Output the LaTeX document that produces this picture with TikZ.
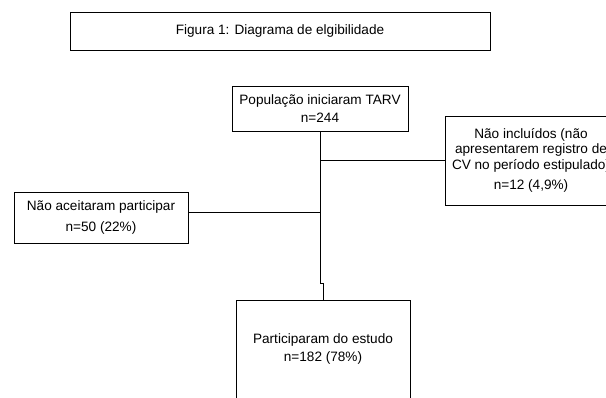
\documentclass[tikz,border=0pt]{standalone}
\usepackage{fontspec}
\setmainfont{Liberation Sans}
\usepackage{tikz}

\begin{document}
\begin{tikzpicture}[x=0.75pt, y=-0.75pt,
    box/.style={draw, line width=0.6pt, align=center, inner sep=0pt,
        font=\fontsize{10.2}{13.5}\selectfont},
    link/.style={line width=0.6pt}]
\useasboundingbox (0,0) rectangle (606,397);
\clip (0,0) rectangle (606,397);

% Title
\node[box, minimum width=315pt, minimum height=28.5pt] (title) at (280,31) {Figura 1: Diagrama de elgibilidade};

% Boxes
\node[box, minimum width=132pt, minimum height=33.75pt] (pop) at (320,108.5) {População iniciaram TARV\\n=244};
\node[box, minimum width=130.5pt, minimum height=38.25pt, font=\fontsize{10.2}{15.5}\selectfont] (recusa) at (101,217.5) {Não aceitaram participar\\n=50 (22\%)};
\node[box, minimum width=129pt, minimum height=66.75pt, font=\fontsize{10.2}{11.5}\selectfont] (excl) at (531,160.5) {Não incluídos (não\\apresentarem registro de\\CV no período estipulado)\\[4pt]n=12 (4,9\%)};
\node[box, minimum width=130.5pt, minimum height=73.5pt] (estudo) at (323,349) {Participaram do estudo\\n=182 (78\%)};

% Lines
\coordinate (jog) at (320,283);
\coordinate (ljoin) at (320,212);
\draw[link] (pop.south) -- (jog) -| (estudo.north);
\draw[link] (ljoin -| recusa.east) -- (ljoin);
\draw[link] (pop.south |- excl.west) -- (excl.west);
\end{tikzpicture}
\end{document}
